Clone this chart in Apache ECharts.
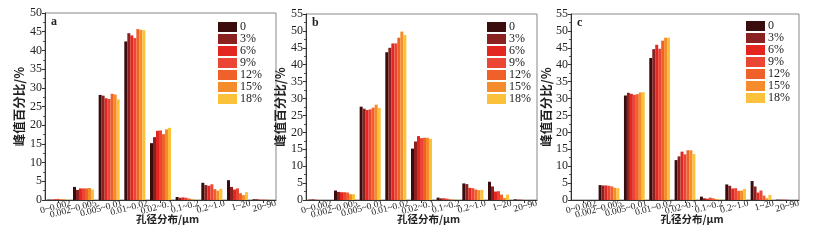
<!DOCTYPE html>
<html><head><meta charset="utf-8">
<script src="https://cdn.jsdelivr.net/npm/echarts@6/dist/echarts.min.js"></script>
<style>html,body{margin:0;padding:0;background:#fff}#c{width:817px;height:241px}</style>
</head><body><div id="c"></div>
<script>
const categories = ['0~0.002','0.002~0.005','0.005~0.01','0.01~0.02','0.02~0.1','0.1~0.2','0.2~1.0','1~20','20~90'];
const seriesNames = ['0','3%','6%','9%','12%','15%','18%'];
const panelLabels = ['a','b','c'];
const yMax = [50, 55, 55];

// panel a: each array = one dosage series across the 9 pore-size classes
const a_0   = [0.1, 3.5, 28.1, 42.4, 15.2, 0.8, 4.6, 5.3, 0.2];
const a_3   = [0.1, 2.7, 27.9, 44.6, 16.8, 0.6, 4.0, 3.5, 0.2];
const a_6   = [0.2, 3.1, 27.2, 44.0, 18.5, 0.7, 3.8, 2.8, 0.1];
const a_9   = [0.3, 3.1, 27.0, 43.3, 18.6, 0.6, 4.2, 3.1, 0.1];
const a_12  = [0.2, 3.1, 28.4, 45.7, 17.6, 0.4, 2.9, 1.8, 0.1];
const a_15  = [0.2, 3.2, 28.2, 45.5, 18.9, 0.2, 2.5, 1.3, 0.0];
const a_18  = [0.1, 2.8, 26.9, 45.4, 19.3, 0.1, 3.0, 2.1, 0.0];

const b_0   = [0.1, 2.8, 27.6, 43.7, 15.2, 0.7, 4.9, 5.4, 0.2];
const b_3   = [0.2, 2.4, 27.0, 45.0, 17.3, 0.5, 4.7, 4.0, 0.1];
const b_6   = [0.1, 2.3, 26.6, 46.3, 18.9, 0.5, 3.6, 2.5, 0.1];
const b_9   = [0.0, 2.3, 26.8, 46.3, 18.3, 0.4, 3.5, 2.6, 0.0];
const b_12  = [0.0, 2.2, 27.3, 48.0, 18.4, 0.2, 3.1, 1.6, 0.0];
const b_15  = [0.0, 1.7, 28.2, 49.8, 18.4, 0.1, 2.9, 0.6, 0.0];
const b_18  = [0.0, 1.7, 27.2, 48.8, 18.1, 0.1, 3.0, 1.6, 0.0];

const c_0   = [0.0, 4.4, 30.9, 42.0, 11.8, 1.0, 4.6, 5.6, 0.1];
const c_3   = [0.0, 4.3, 31.7, 44.6, 12.9, 0.5, 4.2, 4.0, 0.1];
const c_6   = [0.0, 4.3, 31.4, 45.9, 14.3, 0.4, 3.4, 2.2, 0.1];
const c_9   = [0.0, 4.2, 31.1, 44.7, 13.5, 0.7, 3.5, 2.8, 0.1];
const c_12  = [0.0, 4.0, 31.3, 47.1, 14.7, 0.5, 2.7, 1.3, 0.0];
const c_15  = [0.0, 3.6, 31.8, 48.0, 14.7, 0.3, 2.8, 0.5, 0.0];
const c_18  = [0.0, 3.5, 31.9, 48.0, 13.6, 0.2, 3.3, 1.5, 0.0];

const panelData = [
  [a_0, a_3, a_6, a_9, a_12, a_15, a_18],
  [b_0, b_3, b_6, b_9, b_12, b_15, b_18],
  [c_0, c_3, c_6, c_9, c_12, c_15, c_18]
];

const colors = ['#3b0c0c','#8a2222','#e3261f','#ea4535','#ef6128','#f58c2b','#fbc13a'];
const serif = '"Liberation Serif", "DejaVu Serif", serif';
const cjk = '"Noto Sans CJK SC", sans-serif';

const grids = [
  {left:45, top:13, width:231, height:187},
  {left:306, top:14, width:231, height:186},
  {left:571, top:14, width:228, height:186}
];
const legendPos = [{left:218, top:21},{left:487, top:21},{left:746, top:20}];
const labelPos = [{left:51, top:16},{left:312, top:17},{left:577, top:17}];

const option = {
  animation:false,
  backgroundColor:'#fff',
  color: colors,
  grid: grids.map(g => Object.assign({show:true, borderColor:'#888', borderWidth:1, backgroundColor:'transparent'}, g)),
  xAxis: [],
  yAxis: [],
  series: [],
  legend: [],
  graphic: []
};

for (let p = 0; p < 3; p++) {
  option.xAxis.push({
    type:'category', gridIndex:p, data:categories, position:'bottom',
    boundaryGap:true,
    axisLine:{show:true, lineStyle:{color:'#333', width:1}},
    axisTick:{show:true, alignWithLabel:true, length:3, lineStyle:{color:'#333'}},
    axisLabel:{show:false},
    name:'孔径分布/μm', nameLocation:'middle', nameGap:14,
    nameTextStyle:{fontFamily:cjk, fontSize:10.5, color:'#222', fontWeight:'bold', padding:[0,0,0,14]}
  });
  option.xAxis.push({
    type:'category', gridIndex:p, data:[''].concat(categories), position:'bottom',
    boundaryGap:false,
    axisLine:{show:false}, axisTick:{show:false},
    axisLabel:{show:true, interval:0, rotate:15, margin:3, fontFamily:serif, fontSize:9.5, color:'#222'}
  });
  option.yAxis.push({
    type:'value', gridIndex:p, min:0, max:yMax[p], interval:5,
    axisLine:{show:true, lineStyle:{color:'#333'}},
    axisTick:{show:true, length:3, lineStyle:{color:'#333'}},
    minorTick:{show:true, splitNumber:2, length:2, lineStyle:{color:'#555'}},
    splitLine:{show:false},
    axisLabel:{fontFamily:serif, fontSize:12, color:'#222', margin:3},
    name:'峰值百分比/%', nameLocation:'middle', nameGap:19,
    nameTextStyle:{fontFamily:cjk, fontSize:12.5, color:'#222', fontWeight:'bold'}
  });
  for (let s = 0; s < 7; s++) {
    option.series.push({
      type:'bar', name:seriesNames[s], xAxisIndex:p*2, yAxisIndex:p,
      data:panelData[p][s], barGap:'0%', barCategoryGap:'18%',
      itemStyle:{color:colors[s]}
    });
  }
  option.legend.push(Object.assign({
    orient:'vertical', data:seriesNames, icon:'rect',
    itemWidth:19, itemHeight:10, itemGap:0, padding:0,
    textStyle:{fontFamily:serif, fontSize:12, color:'#222', lineHeight:10, padding:[0,0,0,-2]},
    selectedMode:false
  }, legendPos[p]));
  option.graphic.push({
    type:'text', left:labelPos[p].left, top:labelPos[p].top,
    style:{text:panelLabels[p], font:'bold 12px ' + serif, fill:'#222'}
  });
}

const chart = echarts.init(document.getElementById('c'), null, {renderer:'canvas'});
chart.setOption(option);
</script>
</body></html>
